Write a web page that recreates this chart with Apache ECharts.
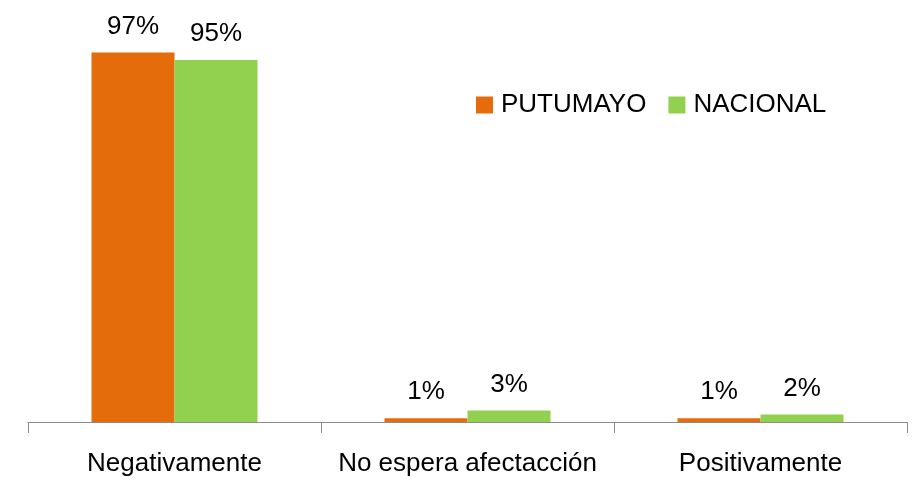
<!DOCTYPE html>
<html>
<head>
<meta charset="utf-8">
<script src="https://cdn.jsdelivr.net/npm/echarts@6/dist/echarts.min.js"></script>
<style>
html, body { margin: 0; padding: 0; background: #fff; }
#chart { width: 917px; height: 481px; }
</style>
</head>
<body>
<div id="chart"></div>
<script>
var categories = ['Negativamente', 'No espera afectacción', 'Positivamente'];
var putumayo = [97, 1, 1];
var nacional = [95, 3, 2];

var chart = echarts.init(document.getElementById('chart'));
var font = 'Liberation Sans, Arial, sans-serif';

function barLabel(){
	return {
		show: true, position: 'top', distance: 13,
		formatter: '{c}%', fontFamily: font, fontSize: 26, color: '#000'
	};
}

var option = {
	animation: false,
	legend: {
		left: 471,
		top: 87,
		itemWidth: 17,
		itemHeight: 17,
		itemGap: 22,
		icon: 'rect',
		textStyle: { fontFamily: font, fontSize: 26, color: '#000', padding: [0, 0, 0, 3] },
		data: ['PUTUMAYO', 'NACIONAL']
	},
	grid: { left: 28, right: 10, top: 41, bottom: 59 },
	xAxis: {
		type: 'category',
		data: categories,
		axisLine: { lineStyle: { color: '#8c8c8c', width: 1 } },
		axisTick: { show: true, length: 11, lineStyle: { color: '#8c8c8c' } },
		axisLabel: { interval: 0, fontFamily: font, fontSize: 26, color: '#000', margin: 29 }
	},
	yAxis: {
		type: 'value',
		min: 0,
		max: 100,
		show: false
	},
	series: [{
		name: 'PUTUMAYO',
		type: 'bar',
		data: putumayo,
		barWidth: 83,
		barGap: '0%',
		itemStyle: { color: '#E46C0A' },
		label: barLabel()
	}, {
		name: 'NACIONAL',
		type: 'bar',
		data: nacional,
		barWidth: 83,
		barGap: '0%',
		itemStyle: { color: '#92D050' },
		label: barLabel()
	}]
};
chart.setOption(option);
</script>
</body>
</html>
